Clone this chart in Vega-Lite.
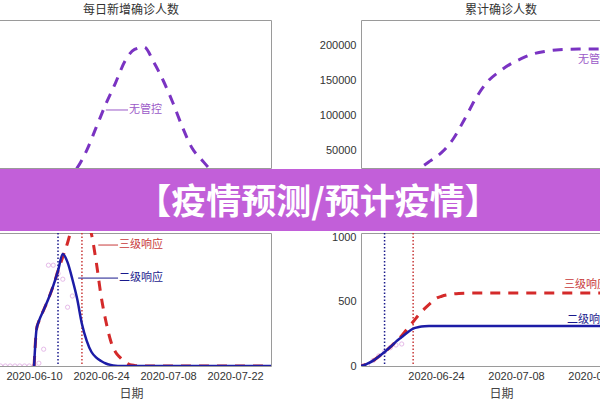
{
  "$schema": "https://vega.github.io/schema/vega-lite/v6.json",
  "padding": {"top": 3, "left": -10, "right": 0, "bottom": 0},
  "background": "white",
  "spacing": 0,
  "config": {
    "view": {"stroke": "#9a9a9a", "strokeWidth": 1},
    "font": "Liberation Sans",
    "axis": {"labelFont": "Liberation Sans", "labelFontSize": 11, "labelColor": "#333", "grid": false, "domain": false, "ticks": false, "tickSize": 0, "labelPadding": 5, "titleFont": "Noto Sans CJK SC", "titleFontWeight": "normal", "titleFontSize": 12, "titleColor": "#444", "titlePadding": 7},
    "axisX": {"labelPadding": 4},
    "title": {"font": "Noto Sans CJK SC", "fontSize": 12, "fontWeight": "normal", "color": "#333", "offset": 3}
  },
  "datasets": {
    "purpleDaily": [
      {"d": "2020/06/01", "v": 0}, {"d": "2020/06/03", "v": 0}, {"d": "2020/06/05", "v": 10}, {"d": "2020/06/07", "v": 30},
      {"d": "2020/06/09", "v": 60}, {"d": "2020/06/11", "v": 110}, {"d": "2020/06/13", "v": 170}, {"d": "2020/06/15", "v": 280},
      {"d": "2020/06/17", "v": 600}, {"d": "2020/06/19", "v": 1400}, {"d": "2020/06/21", "v": 2900}, {"d": "2020/06/23", "v": 4900},
      {"d": "2020/06/25", "v": 6900}, {"d": "2020/06/27", "v": 8700}, {"d": "2020/06/29", "v": 10600}, {"d": "2020/07/01", "v": 11600},
      {"d": "2020/07/03", "v": 11800}, {"d": "2020/07/05", "v": 10500}, {"d": "2020/07/07", "v": 8900}, {"d": "2020/07/09", "v": 7000},
      {"d": "2020/07/11", "v": 4900}, {"d": "2020/07/13", "v": 3100}, {"d": "2020/07/15", "v": 2100}, {"d": "2020/07/17", "v": 1200},
      {"d": "2020/07/19", "v": 700}, {"d": "2020/07/21", "v": 420}, {"d": "2020/07/23", "v": 250}, {"d": "2020/07/25", "v": 130},
      {"d": "2020/07/27", "v": 60}, {"d": "2020/07/29", "v": 30}
    ],
    "purpleCum": [
      {"d": "2020/06/10", "v": 500}, {"d": "2020/06/11", "v": 1500}, {"d": "2020/06/13", "v": 4000}, {"d": "2020/06/15", "v": 7500},
      {"d": "2020/06/17", "v": 11500}, {"d": "2020/06/19", "v": 17000}, {"d": "2020/06/21", "v": 25000}, {"d": "2020/06/23", "v": 36000},
      {"d": "2020/06/25", "v": 48000}, {"d": "2020/06/27", "v": 67000}, {"d": "2020/06/29", "v": 95000}, {"d": "2020/07/01", "v": 125000},
      {"d": "2020/07/03", "v": 148000}, {"d": "2020/07/05", "v": 162000}, {"d": "2020/07/07", "v": 173000}, {"d": "2020/07/09", "v": 181000},
      {"d": "2020/07/11", "v": 187500}, {"d": "2020/07/13", "v": 191000}, {"d": "2020/07/15", "v": 193000}, {"d": "2020/07/17", "v": 194000},
      {"d": "2020/07/19", "v": 194300}, {"d": "2020/07/21", "v": 194400}, {"d": "2020/07/23", "v": 194500}, {"d": "2020/07/26", "v": 194500},
      {"d": "2020/07/30", "v": 194500}
    ],
    "lowerDaily": [
      {"d": "2020/06/10", "r": 0, "b": 0}, {"d": "2020/06/10 12:00", "r": 13, "b": 13}, {"d": "2020/06/11", "r": 16, "b": 16},
      {"d": "2020/06/12", "r": 20, "b": 20}, {"d": "2020/06/13", "r": 24, "b": 24}, {"d": "2020/06/14", "r": 28.6, "b": 28.6},
      {"d": "2020/06/15", "r": 34, "b": 34}, {"d": "2020/06/16", "r": 39, "b": 40}, {"d": "2020/06/17", "r": 44, "b": 37},
      {"d": "2020/06/18", "r": 50, "b": 31}, {"d": "2020/06/19", "r": 54, "b": 24}, {"d": "2020/06/20", "r": 54.5, "b": 15},
      {"d": "2020/06/21", "r": 52, "b": 9}, {"d": "2020/06/22", "r": 47, "b": 5}, {"d": "2020/06/23", "r": 37, "b": 3},
      {"d": "2020/06/24", "r": 25, "b": 1.8}, {"d": "2020/06/25", "r": 16, "b": 0.9}, {"d": "2020/06/26", "r": 9, "b": 0.4},
      {"d": "2020/06/27", "r": 5, "b": 0.1}, {"d": "2020/06/28", "r": 3, "b": 0}, {"d": "2020/06/29", "r": 1.5, "b": 0},
      {"d": "2020/06/30", "r": 0.5, "b": 0}, {"d": "2020/07/01", "r": 0.2, "b": 0}, {"d": "2020/07/03", "r": 0, "b": 0},
      {"d": "2020/07/10", "r": 0, "b": 0}, {"d": "2020/07/20", "r": 0, "b": 0}, {"d": "2020/07/29 12:00", "r": 0, "b": 0}
    ],
    "lowerCum": [
      {"d": "2020/06/10", "r": 0, "b": 0}, {"d": "2020/06/11", "r": 2, "b": 2}, {"d": "2020/06/12", "r": 18, "b": 18},
      {"d": "2020/06/13", "r": 42, "b": 42}, {"d": "2020/06/14", "r": 75, "b": 75}, {"d": "2020/06/15", "r": 110, "b": 110},
      {"d": "2020/06/16", "r": 148, "b": 148}, {"d": "2020/06/17", "r": 192, "b": 190}, {"d": "2020/06/18", "r": 236, "b": 226},
      {"d": "2020/06/19", "r": 292, "b": 262}, {"d": "2020/06/20", "r": 345, "b": 292}, {"d": "2020/06/21", "r": 400, "b": 304},
      {"d": "2020/06/22", "r": 448, "b": 310}, {"d": "2020/06/23", "r": 490, "b": 312}, {"d": "2020/06/24", "r": 528, "b": 313},
      {"d": "2020/06/25", "r": 545, "b": 313}, {"d": "2020/06/26", "r": 556, "b": 313}, {"d": "2020/06/27", "r": 563, "b": 313},
      {"d": "2020/06/28", "r": 567, "b": 313}, {"d": "2020/06/29", "r": 569, "b": 313}, {"d": "2020/06/30", "r": 570, "b": 313},
      {"d": "2020/07/10", "r": 570, "b": 313}, {"d": "2020/07/20", "r": 570, "b": 313}, {"d": "2020/07/30", "r": 570, "b": 313}
    ],
    "obsDaily": [
      {"d": "2020/06/01", "v": 0}, {"d": "2020/06/02", "v": 0}, {"d": "2020/06/03", "v": 0}, {"d": "2020/06/04", "v": 0},
      {"d": "2020/06/05", "v": 0}, {"d": "2020/06/06", "v": 0}, {"d": "2020/06/07", "v": 0}, {"d": "2020/06/08", "v": 0},
      {"d": "2020/06/09", "v": 0}, {"d": "2020/06/10", "v": 0}, {"d": "2020/06/11", "v": 1}, {"d": "2020/06/12", "v": 6},
      {"d": "2020/06/13", "v": 36}, {"d": "2020/06/14", "v": 36}, {"d": "2020/06/15", "v": 33}, {"d": "2020/06/16", "v": 31},
      {"d": "2020/06/17", "v": 21}, {"d": "2020/06/18", "v": 25}
    ],
    "obsCum": [
      {"d": "2020/06/11", "v": 1}, {"d": "2020/06/12", "v": 7}, {"d": "2020/06/13", "v": 43}, {"d": "2020/06/14", "v": 79},
      {"d": "2020/06/15", "v": 112}, {"d": "2020/06/16", "v": 143}, {"d": "2020/06/17", "v": 164}, {"d": "2020/06/18", "v": 172}
    ],
    "vlines": [{"d": "2020/06/15", "c": "b"}, {"d": "2020/06/20", "c": "r"}],
    "labUL": [{"x1": "2020/06/25", "x2": "2020/06/29 15:00", "y": 6380, "t": "无管控"}],
    "labUR": [{"x2": "2020/07/18 20:00", "y": 178800, "t": "无管控"}],
    "labLL": [
      {"x1": "2020/06/23 10:00", "x2": "2020/06/27 13:00", "y": 43.2, "t": "三级响应", "c": "r"},
      {"x1": "2020/06/19 05:00", "x2": "2020/06/27 13:00", "y": 31.4, "t": "二级响应", "c": "b"}
    ],
    "labLR": [
      {"x2": "2020/07/16 10:00", "y": 633, "t": "三级响应", "c": "r"},
      {"x2": "2020/07/16 22:00", "y": 359, "t": "二级响应", "c": "b"}
    ],
    "banner": [{"t": "【疫情预测/预计疫情】"}]
  },
  "vconcat": [
    {
      "bounds": "flush",
      "spacing": 90,
      "hconcat": [
        {
          "width": 280, "height": 148,
          "title": "每日新增确诊人数",
          "layer": [
            {
              "data": {"name": "purpleDaily"},
              "mark": {"type": "line", "color": "#7a33c2", "strokeWidth": 3, "strokeDash": [10, 8], "interpolate": "monotone", "clip": true},
              "encoding": {
                "x": {"field": "d", "type": "temporal", "scale": {"domain": [{"year": 2020, "month": 6, "date": 1}, {"year": 2020, "month": 7, "date": 29, "hours": 12}]}, "axis": null},
                "y": {"field": "v", "type": "quantitative", "scale": {"domain": [1379, 14137], "nice": false, "zero": false}, "axis": null}
              }
            },
            {
              "data": {"name": "labUL"},
              "mark": {"type": "rule", "color": "#9b59c8", "strokeWidth": 1},
              "encoding": {
                "x": {"field": "x1", "type": "temporal"},
                "x2": {"field": "x2"},
                "y": {"field": "y", "type": "quantitative"}
              }
            },
            {
              "data": {"name": "labUL"},
              "mark": {"type": "text", "align": "left", "baseline": "middle", "font": "Noto Sans CJK SC", "fontSize": 11, "color": "#9b59c8", "dx": 1},
              "encoding": {
                "x": {"field": "x2", "type": "temporal"},
                "y": {"field": "y", "type": "quantitative"},
                "text": {"field": "t"}
              }
            }
          ]
        },
        {
          "width": 280, "height": 148,
          "title": "累计确诊人数",
          "layer": [
            {
              "data": {"name": "purpleCum"},
              "mark": {"type": "line", "color": "#7a33c2", "strokeWidth": 3, "strokeDash": [10, 8], "interpolate": "monotone", "clip": true},
              "encoding": {
                "x": {"field": "d", "type": "temporal", "scale": {"domain": [{"year": 2020, "month": 6, "date": 10, "hours": 21}, {"year": 2020, "month": 7, "date": 29, "hours": 21}]}, "axis": null},
                "y": {"field": "v", "type": "quantitative", "scale": {"domain": [25900, 235500], "nice": false, "zero": false}, "axis": {"values": [50000, 100000, 150000, 200000], "format": "d", "title": null}}
              }
            },
            {
              "data": {"name": "labUR"},
              "mark": {"type": "text", "align": "left", "baseline": "middle", "font": "Noto Sans CJK SC", "fontSize": 11, "color": "#9b59c8"},
              "encoding": {
                "x": {"field": "x2", "type": "temporal"},
                "y": {"field": "y", "type": "quantitative"},
                "text": {"field": "t"}
              }
            }
          ]
        }
      ]
    },
    {
      "width": 620, "height": 62,
      "view": {"fill": "#c25fd9", "stroke": null},
      "data": {"name": "banner"},
      "mark": {"type": "text", "font": "Noto Sans CJK SC", "fontSize": 35, "fontWeight": "bold", "color": "white", "align": "center", "baseline": "middle", "dx": 17, "dy": 3},
      "encoding": {"text": {"field": "t"}}
    },
    {
      "bounds": "flush",
      "spacing": 90,
      "hconcat": [
        {
          "width": 280, "height": 133,
          "layer": [
            {
              "data": {"name": "obsDaily"},
              "mark": {"type": "point", "shape": "circle", "filled": false, "color": "#dc9fe0", "size": 18, "strokeWidth": 1, "clip": true},
              "encoding": {
                "x": {"field": "d", "type": "temporal", "scale": {"domain": [{"year": 2020, "month": 6, "date": 1}, {"year": 2020, "month": 7, "date": 29, "hours": 12}]},
                  "axis": {"values": [{"year": 2020, "month": 6, "date": 10}, {"year": 2020, "month": 6, "date": 24}, {"year": 2020, "month": 7, "date": 8}, {"year": 2020, "month": 7, "date": 22}], "format": "%Y-%m-%d", "title": "日期"}},
                "y": {"field": "v", "type": "quantitative", "scale": {"domain": [0, 47.5], "nice": false}, "axis": null}
              }
            },
            {
              "data": {"name": "vlines"},
              "mark": {"type": "rule", "strokeDash": [1.5, 2], "strokeWidth": 1.5},
              "encoding": {
                "x": {"field": "d", "type": "temporal"},
                "color": {"field": "c", "type": "nominal", "scale": {"domain": ["b", "r"], "range": ["#1a1a8c", "#c83a3a"]}, "legend": null}
              }
            },
            {
              "data": {"name": "lowerDaily"},
              "mark": {"type": "line", "color": "#d42a2a", "strokeWidth": 3, "strokeDash": [10, 8], "interpolate": "monotone", "clip": true},
              "encoding": {
                "x": {"field": "d", "type": "temporal"},
                "y": {"field": "r", "type": "quantitative"}
              }
            },
            {
              "data": {"name": "lowerDaily"},
              "mark": {"type": "line", "color": "#1c1ca6", "strokeWidth": 2.5, "interpolate": "monotone", "clip": true},
              "encoding": {
                "x": {"field": "d", "type": "temporal"},
                "y": {"field": "b", "type": "quantitative"}
              }
            },
            {
              "data": {"name": "labLL"},
              "mark": {"type": "rule", "strokeWidth": 1},
              "encoding": {
                "x": {"field": "x1", "type": "temporal"},
                "x2": {"field": "x2"},
                "y": {"field": "y", "type": "quantitative"},
                "color": {"field": "c", "type": "nominal", "legend": null}
              }
            },
            {
              "data": {"name": "labLL"},
              "mark": {"type": "text", "align": "left", "baseline": "middle", "font": "Noto Sans CJK SC", "fontSize": 11, "dx": 1},
              "encoding": {
                "x": {"field": "x2", "type": "temporal"},
                "y": {"field": "y", "type": "quantitative"},
                "text": {"field": "t"},
                "color": {"field": "c", "type": "nominal", "legend": null}
              }
            }
          ]
        },
        {
          "width": 280, "height": 133,
          "layer": [
            {
              "data": {"name": "obsCum"},
              "mark": {"type": "point", "shape": "circle", "filled": false, "color": "#dc9fe0", "size": 18, "strokeWidth": 1, "clip": true},
              "encoding": {
                "x": {"field": "d", "type": "temporal", "scale": {"domain": [{"year": 2020, "month": 6, "date": 10, "hours": 21}, {"year": 2020, "month": 7, "date": 29, "hours": 21}]},
                  "axis": {"values": [{"year": 2020, "month": 6, "date": 24}, {"year": 2020, "month": 7, "date": 8}, {"year": 2020, "month": 7, "date": 22}], "format": "%Y-%m-%d", "title": "日期"}},
                "y": {"field": "v", "type": "quantitative", "scale": {"domain": [0, 1039], "nice": false}, "axis": {"values": [0, 500, 1000], "format": "d", "title": null}}
              }
            },
            {
              "data": {"name": "vlines"},
              "mark": {"type": "rule", "strokeDash": [1.5, 2], "strokeWidth": 1.5},
              "encoding": {
                "x": {"field": "d", "type": "temporal"},
                "color": {"field": "c", "type": "nominal", "scale": {"domain": ["b", "r"], "range": ["#1a1a8c", "#c83a3a"]}, "legend": null}
              }
            },
            {
              "data": {"name": "lowerCum"},
              "mark": {"type": "line", "color": "#d42a2a", "strokeWidth": 3, "strokeDash": [10, 8], "interpolate": "monotone", "clip": true},
              "encoding": {
                "x": {"field": "d", "type": "temporal"},
                "y": {"field": "r", "type": "quantitative"}
              }
            },
            {
              "data": {"name": "lowerCum"},
              "mark": {"type": "line", "color": "#1c1ca6", "strokeWidth": 2.5, "interpolate": "monotone", "clip": true},
              "encoding": {
                "x": {"field": "d", "type": "temporal"},
                "y": {"field": "b", "type": "quantitative"}
              }
            },
            {
              "data": {"name": "labLR"},
              "mark": {"type": "text", "align": "left", "baseline": "middle", "font": "Noto Sans CJK SC", "fontSize": 11},
              "encoding": {
                "x": {"field": "x2", "type": "temporal"},
                "y": {"field": "y", "type": "quantitative"},
                "text": {"field": "t"},
                "color": {"field": "c", "type": "nominal", "legend": null}
              }
            }
          ]
        }
      ]
    }
  ]
}
